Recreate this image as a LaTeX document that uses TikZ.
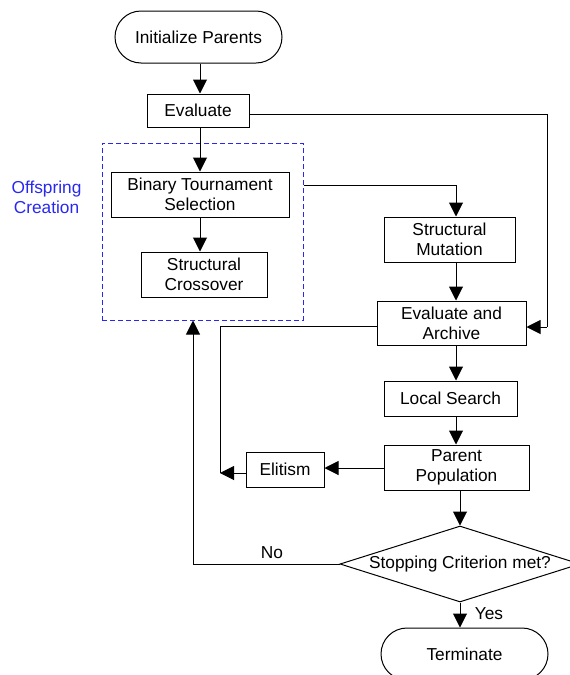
\documentclass[tikz,border=0pt]{standalone}
\usepackage{fontspec}
\setmainfont{Liberation Sans}
\usetikzlibrary{shapes.geometric,shapes.misc,arrows.meta}
\definecolor{offblue}{RGB}{40,40,240}
\tikzset{
  every node/.style={font=\fontsize{17.3}{20}\selectfont, align=center, inner sep=0pt},
  procbox/.style={draw, line width=1pt, rectangle, minimum width=#1},
  terminal/.style={draw, line width=1pt, rounded rectangle, minimum width=167pt, minimum height=52pt},
  flow/.style={line width=1pt, -{Triangle[length=14pt,width=14pt]}},
  plain/.style={line width=1pt},
}
\begin{document}
\begin{tikzpicture}[x=1pt,y=-1pt]
\useasboundingbox (0,0) rectangle (570,675);

% boxes of the main loop
\node[terminal] (init) at (198.5,37) {Initialize Parents};
\node[procbox=102pt, minimum height=33pt] (eval) at (198,110.5) {Evaluate};
\node[procbox=178pt, minimum height=45pt] (bts) at (200,194.5) {Binary Tournament\\Selection};
\node[procbox=126pt, minimum height=45pt] (cross) at (204,274.5) {Structural\\Crossover};
\node[procbox=131pt, minimum height=45pt] (mut) at (449.5,239.5) {Structural\\Mutation};
\node[procbox=149pt, minimum height=44pt] (evarch) at (451.5,323) {Evaluate and\\Archive};
\node[procbox=133pt, minimum height=35pt] (local) at (450.5,398.5) {Local Search};
\node[procbox=145pt, minimum height=45pt] (parent) at (456.5,467.5) {Parent\\Population};
\node[procbox=78pt, minimum height=35pt] (elit) at (285,469.5) {Elitism};
\node[draw, line width=1pt, diamond, minimum width=240pt, minimum height=76pt] (stop) at (460,564) {};
\node (stoptext) at (stop.center) {Stopping Criterion met?};
\node[terminal] (term) at (464.5,654) {Terminate};

% dashed group around the offspring steps
\node[draw=offblue, line width=1pt, dash pattern=on 5pt off 3pt, minimum width=201pt, minimum height=177pt] (group) at (202.5,231.5) {};
\node[text=offblue] (grouplbl) at (46.5,197.5) {Offspring\\Creation};

% helper points of the connectors
\coordinate (col) at (200,0);
\coordinate (mcol) at (456,0);
\coordinate (evalR) at (547,114);
\coordinate (archR) at (547,327);
\coordinate (joinL) at (220,473);
\coordinate (noturn) at (193,564);

% connectors
\draw[flow] (init.south -| col) -- (eval.north -| col);
\draw[flow] (eval.south -| col) -- (bts.north -| col);
\draw[flow] (bts.south -| col) -- (cross.north -| col);
\draw[flow] (group.east |- 0,185) -| (mut.north -| mcol);
\draw[flow] (mut.south -| mcol) -- (evarch.north -| mcol);
\draw[plain] (eval.east |- evalR) -- (evalR) -- (archR);
\draw[flow] (archR) -- (evarch.east |- archR);
\draw[flow] (evarch.south -| mcol) -- (local.north -| mcol);
\draw[flow] (local.south -| mcol) -- (parent.north -| mcol);
\draw[flow] (parent.west |- 0,468) -- (elit.east |- 0,468);
\draw[plain] (evarch.west |- 0,326) -| (joinL);
\draw[flow] (elit.west |- joinL) -- (joinL);
\draw[flow] (parent.south -| stop.north) -- (stop.north);
\draw[plain] (stop.west) -- (noturn);
\draw[flow] (noturn) -- (noturn |- group.south);
\draw[flow] (stop.south) -- (term.north -| stop.south);

% branch labels
\node (nolbl) at (272,553) {No};
\node (yeslbl) at (489,614) {Yes};
\end{tikzpicture}
\end{document}
